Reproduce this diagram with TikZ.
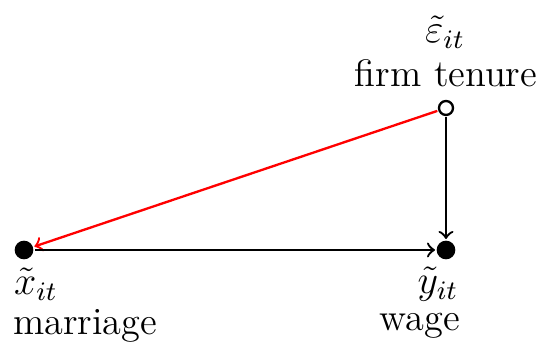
\documentclass[tikz,border=0pt]{standalone}
\usepackage{amsmath}
\usepackage{amssymb}

\begin{document}
\begin{tikzpicture}[x=0.3pt, y=-0.3pt, >=to, font=\fontsize{11.5}{13}\selectfont]

\useasboundingbox (0,0) rectangle (538,345);

% Styles
\tikzset{
  dot/.style={circle, fill=black, inner sep=0pt, minimum size=5.6pt},
  opendot/.style={circle, draw=black, fill=white, line width=0.7pt, inner sep=0pt, minimum size=4.2pt},
  lbl/.style={inner sep=0pt},
  arr/.style={->, line width=0.7pt, shorten <=0.3pt, shorten >=0.3pt}
}

% Points
\node[dot] (x) at (24,250) {};
\node[dot] (y) at (446,250) {};
\node[opendot] (e) at (446,108) {};

% Labels
\node[lbl] (esym) at (445,32) {$\tilde{\varepsilon}_{it}$};
\node[lbl] (ename) at (446,73) {firm tenure};
\node[lbl] (xsym) at (36,284) {$\tilde{x}_{it}$};
\node[lbl] (xname) at (85,326) {marriage};
\node[lbl] (ysym) at (438,284) {$\tilde{y}_{it}$};
\node[lbl] (yname) at (420,326) {wage};

% Arrows
\draw[arr, red] (e) -- (x);
\draw[arr] (x) -- (y);
\draw[arr] (e) -- (y);

\end{tikzpicture}
\end{document}
